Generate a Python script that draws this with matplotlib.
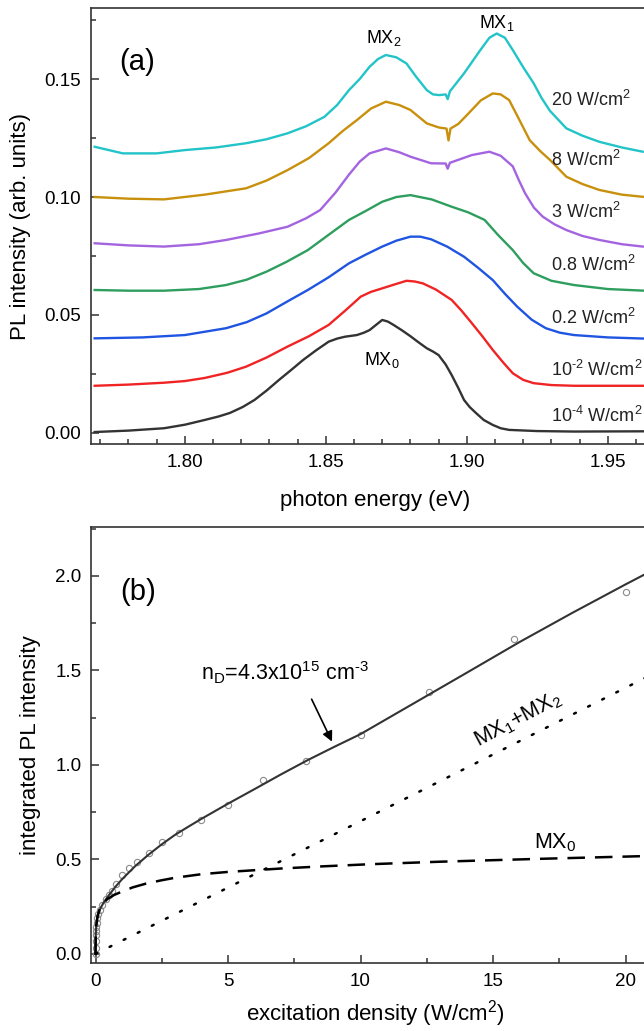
import numpy as np
import matplotlib
matplotlib.use('Agg')
from matplotlib import pyplot as plt
from matplotlib.ticker import MultipleLocator

plt.rcParams['font.family'] = ['Liberation Sans', 'DejaVu Sans']
plt.rcParams['mathtext.fontset'] = 'custom'
plt.rcParams['mathtext.rm'] = 'Liberation Sans'
plt.rcParams['mathtext.it'] = 'Liberation Sans:italic'
plt.rcParams['mathtext.default'] = 'regular'

# ---- panel (a): PL spectra (offset by 0.02) ----
e_k = [1.768, 1.780, 1.7926, 1.800, 1.807, 1.812, 1.816, 1.8205, 1.8247, 1.829, 1.8334, 1.838,
       1.842, 1.8465, 1.851, 1.854, 1.8568, 1.861, 1.8635, 1.8655, 1.868, 1.870, 1.872, 1.874,
       1.877, 1.880, 1.883, 1.8858, 1.888, 1.890, 1.8925, 1.8946, 1.897, 1.899, 1.901, 1.9032,
       1.906, 1.9092, 1.912, 1.915, 1.925, 1.938, 1.963]
i_k = [0.0004, 0.001, 0.002, 0.0035, 0.0055, 0.007, 0.0085, 0.011, 0.014, 0.018, 0.0225, 0.027,
       0.031, 0.035, 0.0387, 0.040, 0.0408, 0.0415, 0.0425, 0.0436, 0.046, 0.0479, 0.0472, 0.0458,
       0.0435, 0.041, 0.0383, 0.0359, 0.0345, 0.033, 0.029, 0.0246, 0.019, 0.014, 0.011, 0.0085,
       0.0055, 0.0034, 0.002, 0.0013, 0.0008, 0.0006, 0.0007]

e_r = [1.768, 1.780, 1.7926, 1.800, 1.807, 1.815, 1.8217, 1.829, 1.8364, 1.844, 1.851, 1.857,
       1.8624, 1.866, 1.870, 1.8745, 1.8786, 1.8815, 1.8844, 1.889, 1.8946, 1.898, 1.9018, 1.9055,
       1.9092, 1.9128, 1.9163, 1.920, 1.9237, 1.930, 1.938, 1.963]
i_r = [0.020, 0.0205, 0.0213, 0.022, 0.0233, 0.0255, 0.0281, 0.032, 0.0366, 0.041, 0.0458, 0.052,
       0.0578, 0.0598, 0.0613, 0.063, 0.0645, 0.0642, 0.0634, 0.0608, 0.0564, 0.052, 0.0465, 0.041,
       0.0352, 0.030, 0.0253, 0.0225, 0.0211, 0.0203, 0.020, 0.020]

e_b = [1.768, 1.785, 1.800, 1.8146, 1.822, 1.829, 1.836, 1.8436, 1.851, 1.8582, 1.864, 1.870,
       1.875, 1.880, 1.8835, 1.8873, 1.893, 1.899, 1.904, 1.9092, 1.9135, 1.9179, 1.923, 1.928,
       1.933, 1.938, 1.950, 1.963]
i_b = [0.0401, 0.0405, 0.0415, 0.0444, 0.047, 0.0507, 0.0555, 0.0606, 0.066, 0.0719, 0.0755, 0.079,
       0.0815, 0.0832, 0.0832, 0.0821, 0.079, 0.0747, 0.070, 0.0648, 0.059, 0.0535, 0.048, 0.0444,
       0.0425, 0.0415, 0.0405, 0.040]

e_g = [1.768, 1.780, 1.7926, 1.805, 1.8146, 1.822, 1.829, 1.836, 1.8436, 1.851, 1.8582, 1.864,
       1.870, 1.875, 1.880, 1.8875, 1.8946, 1.9005, 1.9063, 1.911, 1.9163, 1.920, 1.9237, 1.930,
       1.938, 1.950, 1.963]
i_g = [0.0606, 0.0603, 0.0603, 0.061, 0.0627, 0.065, 0.0684, 0.0725, 0.0775, 0.084, 0.0903, 0.094,
       0.098, 0.100, 0.1008, 0.099, 0.0959, 0.0935, 0.0903, 0.084, 0.0775, 0.072, 0.0677, 0.0645,
       0.0627, 0.061, 0.0603]

e_p = [1.768, 1.780, 1.7926, 1.805, 1.8146, 1.826, 1.8364, 1.843, 1.848, 1.8535, 1.8582, 1.862,
       1.8655, 1.8713, 1.876, 1.880, 1.8873, 1.8925, 1.8932, 1.894, 1.898, 1.9018, 1.908, 1.912,
       1.9163, 1.9185, 1.9207, 1.9238, 1.9269, 1.931, 1.9353, 1.941, 1.947, 1.955, 1.9624]
i_p = [0.0804, 0.0795, 0.079, 0.080, 0.0818, 0.0845, 0.0874, 0.091, 0.0945, 0.102, 0.1095, 0.115,
       0.1185, 0.1206, 0.119, 0.1171, 0.1143, 0.1142, 0.112, 0.1145, 0.1162, 0.1178, 0.1192, 0.1175,
       0.1130, 0.107, 0.1015, 0.0955, 0.0917, 0.0885, 0.086, 0.0835, 0.0818, 0.080, 0.079]

e_o = [1.768, 1.780, 1.7926, 1.807, 1.8217, 1.829, 1.8364, 1.844, 1.851, 1.856, 1.861, 1.866,
       1.8713, 1.876, 1.880, 1.8858, 1.890, 1.8928, 1.8935, 1.8942, 1.897, 1.900, 1.905, 1.9092,
       1.912, 1.915, 1.9185, 1.9223, 1.926, 1.9295, 1.9353, 1.941, 1.947, 1.955, 1.9624]
i_o = [0.100, 0.0993, 0.099, 0.101, 0.1037, 0.107, 0.1114, 0.1165, 0.1228, 0.128, 0.1326, 0.1375,
       0.1404, 0.139, 0.1369, 0.1312, 0.1295, 0.129, 0.124, 0.129, 0.131, 0.1347, 0.141, 0.1439,
       0.1435, 0.1411, 0.133, 0.1241, 0.1195, 0.1157, 0.1086, 0.1055, 0.103, 0.101, 0.1001]

e_c = [1.768, 1.778, 1.790, 1.800, 1.811, 1.8217, 1.829, 1.8364, 1.843, 1.8495, 1.854, 1.8582,
       1.862, 1.8655, 1.8685, 1.8713, 1.875, 1.8786, 1.882, 1.8858, 1.888, 1.8902, 1.8925, 1.8932,
       1.894, 1.899, 1.9048, 1.908, 1.9106, 1.9135, 1.9163, 1.920, 1.9237, 1.9265, 1.9295, 1.9353,
       1.941, 1.947, 1.955, 1.9624]
i_c = [0.1213, 0.1185, 0.1185, 0.1199, 0.121, 0.1228, 0.1245, 0.127, 0.130, 0.134, 0.139, 0.1453,
       0.150, 0.1552, 0.1585, 0.1602, 0.1592, 0.1566, 0.151, 0.1453, 0.1435, 0.1432, 0.1435, 0.1415,
       0.1448, 0.1524, 0.1623, 0.1675, 0.1693, 0.1675, 0.1623, 0.155, 0.1482, 0.142, 0.1365, 0.1291,
       0.126, 0.1234, 0.121, 0.1192]

spectra = [(e_k, i_k, '#333333'), (e_r, i_r, '#f02424'), (e_b, i_b, '#1f55e0'),
           (e_g, i_g, '#2e9e5e'), (e_p, i_p, '#a464e0'), (e_o, i_o, '#c8900c'),
           (e_c, i_c, '#22c4c8')]

power_labels = ['10$^{\\text{-4}}$ W/cm$^2$', '10$^{\\text{-2}}$ W/cm$^2$', '0.2 W/cm$^2$',
                '0.8 W/cm$^2$', '3 W/cm$^2$', '8 W/cm$^2$', '20 W/cm$^2$']
power_label_y = [0.0072, 0.0267, 0.0487, 0.0712, 0.0938, 0.1157, 0.1411]

# ---- panel (b): integrated PL vs excitation density ----
dens = [0.0001, 0.001, 0.004, 0.01, 0.016, 0.025, 0.04, 0.063, 0.1, 0.16, 0.25, 0.4, 0.5,
        0.63, 0.79, 1.0, 1.26, 1.58, 2.0, 2.51, 3.16, 3.98, 5.01, 6.31, 7.94, 10.0, 12.6,
        15.8, 20.0]
pl_int = [0.0, 0.03, 0.07, 0.10, 0.12, 0.14, 0.165, 0.19, 0.21, 0.235, 0.26, 0.29, 0.31,
          0.333, 0.369, 0.418, 0.453, 0.489, 0.536, 0.591, 0.642, 0.709, 0.788, 0.921,
          1.021, 1.159, 1.386, 1.667, 1.917]

fit_x = [0.0, 0.002, 0.01, 0.03, 0.06, 0.1, 0.2, 0.3, 0.5, 0.75, 1.0, 1.25, 1.5, 2.0, 2.5,
         3.0, 3.5, 4.0, 4.5, 5.0, 6.0, 7.0, 8.0, 9.0, 10.0, 12.0, 14.0, 16.0, 18.0, 20.0, 21.3]
fit_y = [0.0, 0.05, 0.10, 0.16, 0.19, 0.215, 0.245, 0.27, 0.31, 0.355, 0.395, 0.43, 0.465,
         0.525, 0.58, 0.63, 0.673, 0.715, 0.755, 0.795, 0.872, 0.95, 1.025, 1.095, 1.163, 1.325,
         1.487, 1.65, 1.805, 1.955, 2.05]

mx0_x = [0.0, 0.01, 0.03, 0.08, 0.15, 0.25, 0.44, 0.7, 1.0, 1.4, 1.9, 2.5, 3.0, 4.0, 5.0, 6.0,
         7.0, 8.5, 10.4, 13.0, 16.7, 20.8, 21.3]
mx0_y = [0.0, 0.09, 0.15, 0.20, 0.235, 0.26, 0.29, 0.312, 0.33, 0.352, 0.372, 0.39, 0.403,
         0.422, 0.434, 0.443, 0.452, 0.463, 0.475, 0.488, 0.503, 0.518, 0.52]

mx12_x = [0.0, 10.72, 21.3]
mx12_y = [0.0, 0.753, 1.50]

fig = plt.figure(figsize=(6.44, 10.31), dpi=100)
axa = fig.add_axes([0.1413, 0.5693, 0.8835, 0.4229])
axb = fig.add_axes([0.1413, 0.0660, 0.8835, 0.4229])

for e, i, c in spectra:
    axa.plot(e, i, color=c, lw=1.7)

for lab, y in zip(power_labels, power_label_y):
    axa.text(1.9300, y, lab, fontsize=13, ha='left', va='center', color='#222222')

axa.text(1.8706, 0.1674, 'MX$_2$', fontsize=13, ha='center', va='center')
axa.text(1.9107, 0.1737, 'MX$_1$', fontsize=13, ha='center', va='center')
axa.text(1.870, 0.031, 'MX$_0$', fontsize=13, ha='center', va='center')
axa.text(1.7832, 0.1573, '(a)', fontsize=21, ha='center', va='center')

axa.set_xlim(1.7667, 1.9685)
axa.set_ylim(-0.0047, 0.1801)
axa.xaxis.set_major_locator(MultipleLocator(0.05))
axa.xaxis.set_minor_locator(MultipleLocator(0.01))
axa.yaxis.set_major_locator(MultipleLocator(0.05))
axa.yaxis.set_minor_locator(MultipleLocator(0.025))
axa.xaxis.set_major_formatter(plt.FormatStrFormatter('%.2f'))
axa.yaxis.set_major_formatter(plt.FormatStrFormatter('%.2f'))
axa.set_xlabel('photon energy (eV)', fontsize=16, labelpad=14)
axa.set_ylabel('PL intensity (arb. units)', fontsize=16, labelpad=10)

axb.plot(dens, pl_int, 'o', mfc='none', mec='#8a8a8a', ms=4.5, mew=0.8)
axb.plot(fit_x, fit_y, '-', color='#333333', lw=1.5)
axb.plot(mx0_x, mx0_y, color='black', lw=1.8, dashes=(7, 4))
axb.plot(mx12_x, mx12_y, color='black', lw=1.8, dashes=(0.8, 5.5), dash_capstyle='round')

axb.text(1.61, 1.917, '(b)', fontsize=21, ha='center', va='center')
axb.text(7.15, 1.487, 'n$_D$=4.3x10$^{15}$ cm$^{\\text{-3}}$', fontsize=15.5,
         ha='center', va='center')
axb.annotate('', xy=(8.97, 1.11), xytext=(8.11, 1.361),
             arrowprops=dict(arrowstyle='-|>', color='black', lw=1.2, mutation_scale=15))
axb.text(15.94, 1.238, 'MX$_1$+MX$_2$', fontsize=15.5, ha='center', va='center', rotation=28)
axb.text(17.34, 0.586, 'MX$_0$', fontsize=15.5, ha='center', va='center')

axb.set_xlim(-0.17, 21.30)
axb.set_ylim(-0.0476, 2.259)
axb.xaxis.set_major_locator(MultipleLocator(5))
axb.xaxis.set_minor_locator(MultipleLocator(2.5))
axb.yaxis.set_major_locator(MultipleLocator(0.5))
axb.yaxis.set_minor_locator(MultipleLocator(0.25))
axb.yaxis.set_major_formatter(plt.FormatStrFormatter('%.1f'))
axb.set_xlabel('excitation density (W/cm$^2$)', fontsize=16, labelpad=6)
axb.set_ylabel('integrated PL intensity', fontsize=16, labelpad=10)

for ax in (axa, axb):
    for s in ax.spines.values():
        s.set_linewidth(1.2)
        s.set_color('#333333')
    ax.tick_params(which='both', direction='in', labelsize=13.5, color='#333333', width=1.1)
    ax.tick_params(which='major', length=6, pad=7)
    ax.tick_params(which='minor', length=3.5)
    ax.tick_params(top=False, right=False, which='both')

fig.savefig('out.png', dpi=100)
